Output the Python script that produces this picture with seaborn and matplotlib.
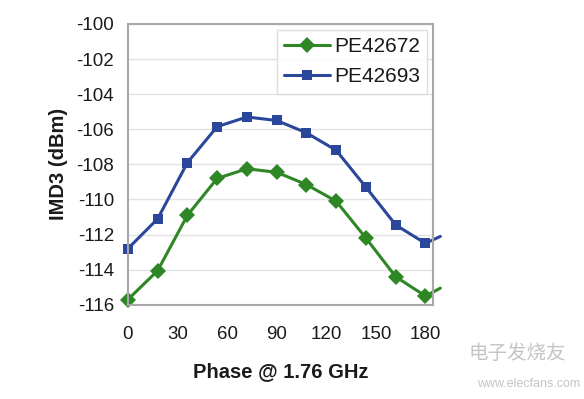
import numpy as np
import pandas as pd
import matplotlib
matplotlib.use('Agg')
import matplotlib.pyplot as plt
import seaborn as sns

# values
phase = [0, 18, 36, 54, 72, 90, 108, 126, 144, 162, 180, 189]
pe42672 = [-115.7, -114.05, -110.9, -108.8, -108.25, -108.45, -109.15, -110.1, -112.2, -114.4, -115.5, -115.05]
pe42693 = [-112.8, -111.1, -107.9, -105.85, -105.3, -105.5, -106.2, -107.2, -109.3, -111.45, -112.5, -112.1]
x_ticks = [0, 30, 60, 90, 120, 150, 180]
y_ticks = list(range(-116, -99, 2))

df = pd.DataFrame({'phase': phase, 'PE42672': pe42672, 'PE42693': pe42693})

sns.set_style('white')
plt.rcParams['font.family'] = ['Liberation Sans', 'DejaVu Sans']
plt.rcParams['axes.unicode_minus'] = False

fig = plt.figure(figsize=(5.84, 3.99), dpi=100)
ax = fig.add_axes([0.219, 0.236, 0.522, 0.704])

green = '#2f8624'
blue = '#2b479c'
marks = list(range(len(phase) - 1))  # last point is where the line leaves the frame

sns.lineplot(data=df, x='phase', y='PE42672', ax=ax, color=green, lw=2.2,
             marker='D', markersize=8, markeredgewidth=0, markevery=marks,
             clip_on=False, label='PE42672')
sns.lineplot(data=df, x='phase', y='PE42693', ax=ax, color=blue, lw=2.2,
             marker='s', markersize=7.5, markeredgewidth=0, markevery=marks,
             clip_on=False, label='PE42693')

ax.set_xlim(0, 184.4)
ax.set_ylim(-116, -100)
ax.set_xticks(x_ticks)
ax.set_yticks(y_ticks)
ax.tick_params(axis='both', labelsize=13.5, colors='#b8b8b8', labelcolor='#1a1a1a',
               length=5, width=1, direction='out')
ax.tick_params(axis='y', pad=5)
ax.tick_params(axis='x', pad=10)
ax.grid(axis='y', color='#e2e2e2', lw=1)
ax.set_axisbelow(True)
for s in ax.spines.values():
    s.set_color('#a8a8a8')
    s.set_linewidth(1.5)

ax.set_xlabel('Phase @ 1.76 GHz', fontsize=14.5, fontweight='bold', labelpad=14, color='#1a1a1a')
ax.set_ylabel('IMD3 (dBm)', fontsize=14.5, fontweight='bold', labelpad=6, color='#1a1a1a')

leg = ax.legend(loc='upper right', fontsize=15, frameon=True, fancybox=False,
                borderpad=0.35, handlelength=2.2, handletextpad=0.2,
                bbox_to_anchor=(0.982, 0.98), labelspacing=0.55, borderaxespad=0)
leg.get_frame().set_edgecolor('#d8d8d8')
leg.get_frame().set_linewidth(1)
for t in leg.get_texts():
    t.set_color('#1a1a1a')

# watermark
fig.text(0.885, 0.1, '电子发烧友', fontsize=14, color='#c4c4c4', ha='center',
         family=['Noto Sans CJK SC', 'DejaVu Sans'])
fig.text(0.905, 0.03, 'www.elecfans.com', fontsize=9, color='#c4c4c4', ha='center')

fig.savefig('out.png', dpi=100)
